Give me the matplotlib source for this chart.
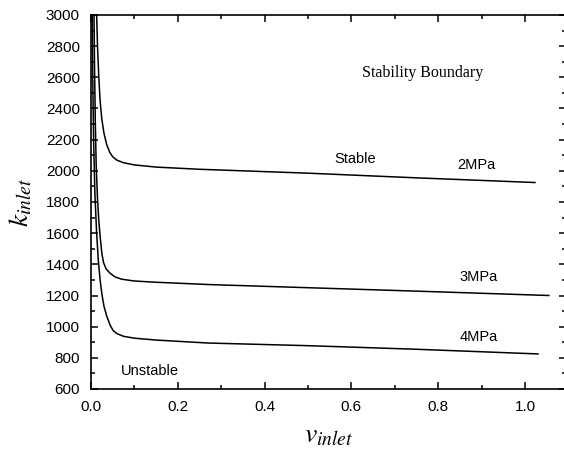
import numpy as np
import matplotlib.pyplot as plt
from matplotlib.ticker import MultipleLocator

plt.rcParams['mathtext.fontset'] = 'stix'
plt.rcParams['font.family'] = ['Liberation Sans', 'DejaVu Sans']

# Curvas de frontera de estabilidad
v_2mpa = [0.013, 0.015, 0.018, 0.021, 0.025, 0.03, 0.036, 0.043, 0.05, 0.06, 0.075, 0.1, 0.15, 0.25, 0.5, 0.75, 1.023]
k_2mpa = [3000, 2800, 2600, 2450, 2330, 2240, 2170, 2120, 2090, 2068, 2052, 2038, 2024, 2010, 1985, 1955, 1925]

v_3mpa = [0.007, 0.008, 0.01, 0.012, 0.015, 0.018, 0.021, 0.025, 0.029, 0.035, 0.044, 0.055, 0.07, 0.1, 0.15, 0.2, 0.274, 0.5, 0.75, 1.055]
k_3mpa = [3000, 2700, 2300, 2030, 1820, 1680, 1580, 1470, 1410, 1370, 1343, 1320, 1305, 1293, 1285, 1279, 1270, 1250, 1228, 1200]

v_4mpa = [0.003, 0.004, 0.006, 0.009, 0.013, 0.017, 0.021, 0.025, 0.03, 0.036, 0.044, 0.051, 0.06, 0.075, 0.1, 0.15, 0.27, 0.5, 0.75, 1.03]
k_4mpa = [3000, 2600, 2200, 1850, 1600, 1420, 1300, 1210, 1130, 1070, 1010, 975, 955, 938, 926, 914, 895, 878, 855, 825]

etiquetas = ['2MPa', '3MPa', '4MPa']

fig = plt.figure(figsize=(5.64, 4.5), dpi=100)
ax = fig.add_axes([91 / 564, 1 - 389 / 450, 475 / 564, 374 / 450])

for v, k in [(v_2mpa, k_2mpa), (v_3mpa, k_3mpa), (v_4mpa, k_4mpa)]:
    ax.plot(v, k, color='black', lw=1.1)

ax.set_xlim(0, 475 / 434)
ax.set_ylim(600, 3000)
ax.xaxis.set_major_locator(MultipleLocator(0.2))
ax.xaxis.set_minor_locator(MultipleLocator(0.1))
ax.yaxis.set_major_locator(MultipleLocator(200))
ax.yaxis.set_minor_locator(MultipleLocator(100))
ax.xaxis.set_major_formatter(plt.FormatStrFormatter('%.1f'))
ax.tick_params(which='both', direction='in', top=True, right=True, labelsize=11, width=1.1)
ax.tick_params(which='major', length=5, pad=8)
ax.tick_params(which='minor', length=3)
for s in ax.spines.values():
    s.set_linewidth(1.2)

ax.set_xlabel(r'$v_{inlet}$', fontsize=20, labelpad=6)
ax.set_ylabel(r'$k_{inlet}$', fontsize=20, labelpad=8)

ax.text(0.765, 2630, 'Stability Boundary', family='Liberation Serif', fontsize=11.5, ha='center', va='center')
ax.text(0.608, 2076, 'Stable', fontsize=10.5, ha='center', va='center')
ax.text(0.887, 2040, etiquetas[0], fontsize=10.5, ha='center', va='center')
ax.text(0.894, 1320, etiquetas[1], fontsize=10.5, ha='center', va='center')
ax.text(0.894, 935, etiquetas[2], fontsize=10.5, ha='center', va='center')
ax.text(0.136, 716, 'Unstable', fontsize=10.5, ha='center', va='center')

fig.savefig('out.png', dpi=100)
